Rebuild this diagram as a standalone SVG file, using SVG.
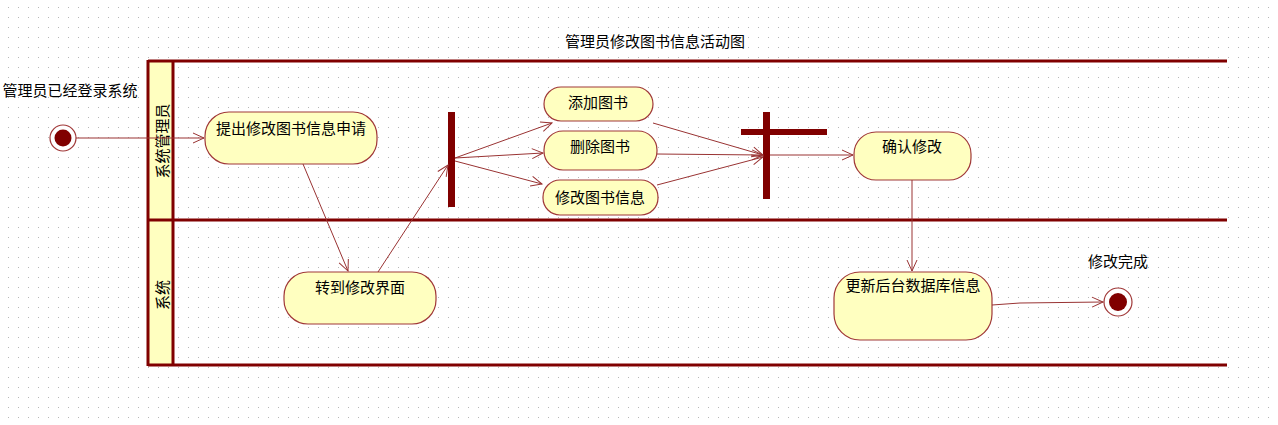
<svg xmlns="http://www.w3.org/2000/svg" width="1278" height="425" viewBox="0 0 1278 425">
<defs>
<pattern id="grid" width="10" height="10" patternUnits="userSpaceOnUse">
<rect x="8" y="7" width="1" height="1" fill="#b8b8b8"/>
</pattern>
<marker id="arr" markerWidth="14" markerHeight="12" refX="12" refY="6" orient="auto" markerUnits="userSpaceOnUse">
<path d="M1,1 L12,6 L1,11" fill="none" stroke="#993333" stroke-width="1"/>
</marker>
<style>
.t{font-family:"Noto Sans CJK SC","Liberation Sans",sans-serif;font-size:15px;fill:#000}
.act{fill:#FFFFC0;stroke:#A03838;stroke-width:1.2}
.lane{stroke:#800000;stroke-width:3;fill:none}
.bar{fill:#800000}
.c{stroke:#993333;stroke-width:1;fill:none;marker-end:url(#arr)}
</style>
</defs>
<rect width="1278" height="425" fill="#fff"/>
<rect width="1278" height="425" fill="url(#grid)"/>
<text class="t" x="655" y="47" text-anchor="middle">管理员修改图书信息活动图</text>
<g id="swimlanes">
<rect x="148" y="61" width="25" height="304" fill="#FFFFC0"/>
<line class="lane" x1="148" y1="61" x2="1227" y2="61"/>
<line class="lane" x1="148" y1="220" x2="1227" y2="220"/>
<line class="lane" x1="148" y1="365" x2="1227" y2="365"/>
<line class="lane" x1="148" y1="60" x2="148" y2="366"/>
<line class="lane" x1="173" y1="60" x2="173" y2="366"/>
<text class="t" transform="translate(161,141) rotate(-90)" text-anchor="middle" dominant-baseline="central">系统管理员</text>
<text class="t" transform="translate(161,295) rotate(-90)" text-anchor="middle" dominant-baseline="central">系统</text>
</g>
<g id="start">
<text class="t" x="70" y="96" text-anchor="middle">管理员已经登录系统</text>
<circle cx="63" cy="138" r="13" fill="#fff" stroke="#A03838" stroke-width="1.2"/>
<circle cx="63" cy="138" r="8.5" fill="#800000"/>
</g>
<g id="a1">
<rect class="act" x="205" y="112" width="172" height="52" rx="24" ry="24"/>
<text class="t" x="291" y="134" text-anchor="middle">提出修改图书信息申请</text>
</g>
<g id="a2">
<rect class="act" x="284" y="272" width="152" height="52" rx="24" ry="24"/>
<text class="t" x="360" y="293" text-anchor="middle">转到修改界面</text>
</g>
<g id="fork">
<rect class="bar" x="448" y="112" width="7" height="95"/>
</g>
<g id="a3">
<rect class="act" x="544" y="87" width="109" height="34" rx="17" ry="17"/>
<text class="t" x="598" y="108" text-anchor="middle">添加图书</text>
</g>
<g id="a4">
<rect class="act" x="544" y="131" width="113" height="39" rx="19" ry="19"/>
<text class="t" x="600" y="152" text-anchor="middle">删除图书</text>
</g>
<g id="a5">
<rect class="act" x="543" y="180" width="115" height="35" rx="17" ry="17"/>
<text class="t" x="600" y="203" text-anchor="middle">修改图书信息</text>
</g>
<g id="join">
<rect class="bar" x="763" y="112" width="7" height="87"/>
<rect class="bar" x="741" y="129" width="86" height="6"/>
</g>
<g id="a6">
<rect class="act" x="854" y="132" width="117" height="48" rx="22" ry="22"/>
<text class="t" x="912" y="152" text-anchor="middle">确认修改</text>
</g>
<g id="a7">
<rect class="act" x="834" y="272" width="158" height="68" rx="26" ry="26"/>
<text class="t" x="913" y="291" text-anchor="middle">更新后台数据库信息</text>
</g>
<g id="end">
<text class="t" x="1118" y="267" text-anchor="middle">修改完成</text>
<circle cx="1118" cy="302" r="14" fill="#fff" stroke="#A03838" stroke-width="1.2"/>
<circle cx="1118" cy="302" r="9" fill="#800000"/>
</g>
<g id="connectors">
<path class="c" d="M76,138 L204,138"/>
<path class="c" d="M303,164 L348,271"/>
<path class="c" d="M378,272 L448,165"/>
<path class="c" d="M455,158 L552,123"/>
<path class="c" d="M455,158 L543,153"/>
<path class="c" d="M455,161 L542,184"/>
<path class="c" d="M653,123 L763,155"/>
<path class="c" d="M657,154 L763,155"/>
<path class="c" d="M657,185 L763,157"/>
<path class="c" d="M770,155 L853,155"/>
<path class="c" d="M912,180 L912,271"/>
<path class="c" d="M992,305 L1020,303 L1103,302"/>
</g>
</svg>
